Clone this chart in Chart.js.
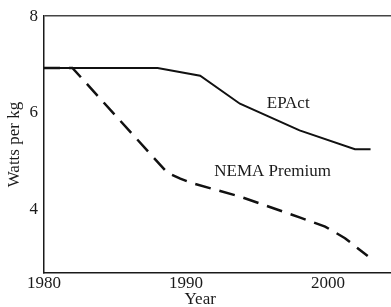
<!DOCTYPE html>
<html>
<head>
<title>Watts per kg</title>
<script src="https://cdn.jsdelivr.net/npm/chart.js@4.4.2/dist/chart.umd.min.js"></script>
<style>
html, body {
    margin: 0;
    padding: 0;
    background: #fff;
}
#wrap {
    width: 391px;
    height: 307px;
}
</style>
</head>
<body>
<div id="wrap"><canvas id="chart"></canvas></div>
<script>
// values
const epactYears = [1980, 1988.0, 1991.0, 1993.8, 1998.0, 2001.9, 2003.0];
const epactValues = [6.93, 6.93, 6.77, 6.19, 5.64, 5.25, 5.25];
const nemaYears = [1980, 1982.0, 1988.7, 1989.6, 1990.4, 1993.8, 1998.0, 1999.8, 2001.2, 2002.8];
const nemaValues = [6.93, 6.93, 4.76, 4.64, 4.55, 4.27, 3.84, 3.65, 3.41, 3.04];
const yearTicks = [1980, 1990, 2000];
const wattTicks = [4, 6, 8];

const serif = "'Liberation Serif', 'Times New Roman', serif";
const ink = "#1a1a1a";

const toPoints = (xs, ys) => xs.map((x, i) => ({x: x, y: ys[i]}));

// series names written inside the plot, plus the x axis title
const textLabels = {
    id: "textLabels",
    afterDraw(chart) {
        const {ctx, scales: {x, y}} = chart;
        ctx.save();
        ctx.fillStyle = ink;
        ctx.font = "17px " + serif;
        ctx.textAlign = "center";
        ctx.textBaseline = "middle";
        ctx.fillText("EPAct", x.getPixelForValue(1997.2), y.getPixelForValue(6.2));
        ctx.fillText("NEMA Premium", x.getPixelForValue(1996.1), y.getPixelForValue(4.78));
        ctx.fillText("Year", x.getPixelForValue(1991), 300);
        ctx.restore();
    }
};

const chart = new Chart(document.getElementById("chart"), {
    type: "line",
    data: {
        datasets: [{
            label: "EPAct",
            data: toPoints(epactYears, epactValues),
            borderColor: "#111",
            borderWidth: 2,
            pointRadius: 0,
            tension: 0
        }, {
            label: "NEMA Premium",
            data: toPoints(nemaYears, nemaValues),
            borderColor: "#111",
            borderWidth: 2.5,
            borderDash: [16, 9],
            pointRadius: 0,
            tension: 0
        }]
    },
    options: {
        responsive: true,
        maintainAspectRatio: false,
        animation: false,
        layout: {padding: {top: 14, right: 0, left: 0, bottom: 0}},
        plugins: {
            legend: {display: false},
            tooltip: {enabled: false}
        },
        scales: {
            x: {
                type: "linear",
                min: 1980,
                max: 2004.44,
                afterBuildTicks: s => { s.ticks = yearTicks.map(v => ({value: v})); },
                afterFit: s => { s.height = 34; },
                grid: {display: false, drawTicks: false},
                border: {display: true, color: ink, width: 1.5},
                ticks: {
                    color: ink,
                    font: {family: serif, size: 17},
                    padding: 0,
                    maxRotation: 0,
                    autoSkip: false,
                    callback: v => String(v)
                }
            },
            y: {
                type: "linear",
                min: 2.69,
                max: 8,
                afterBuildTicks: s => { s.ticks = wattTicks.map(v => ({value: v})); },
                afterFit: s => { s.width = 44; },
                grid: {
                    drawTicks: false,
                    lineWidth: 1.5,
                    color: c => (c.tick && c.tick.value === 8) ? "#444" : "rgba(0,0,0,0)"
                },
                border: {display: true, color: ink, width: 1.5},
                ticks: {
                    color: ink,
                    font: {family: serif, size: 17},
                    padding: 6
                },
                title: {
                    display: true,
                    text: "Watts per kg",
                    color: ink,
                    font: {family: serif, size: 17},
                    padding: {top: 4, bottom: 0}
                }
            }
        }
    },
    plugins: [textLabels]
});
</script>
</body>
</html>
